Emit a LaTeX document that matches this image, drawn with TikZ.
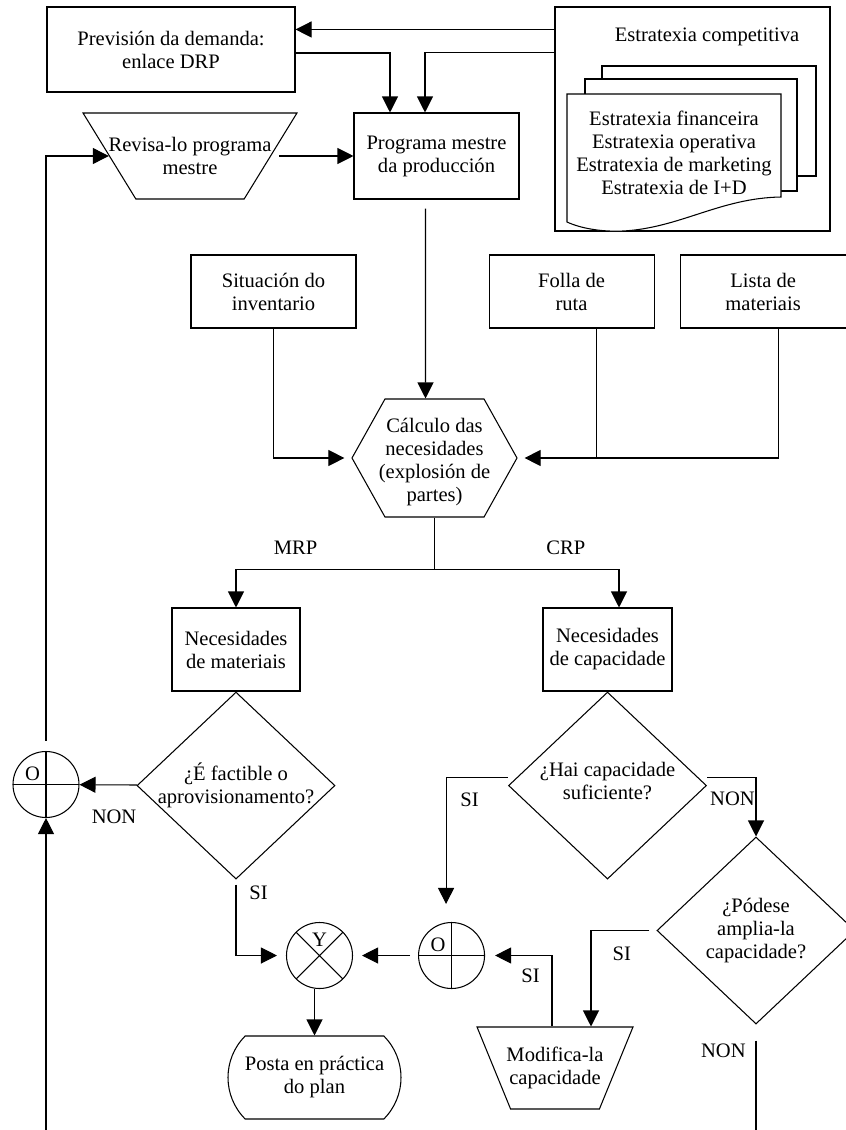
\documentclass[tikz,border=0pt]{standalone}
\usepackage{fontspec}
\setmainfont{Liberation Serif}
\usetikzlibrary{shapes, arrows.meta, positioning}

\begin{document}
\begin{tikzpicture}[x=0.2mm, y=-0.2mm, semithick, >={Triangle[length=3.2mm, width=3.2mm]},
  font=\fontsize{11.7}{13.1}\selectfont,
  box/.style={draw, rectangle, align=center, inner xsep=2pt},
  dec/.style={draw, diamond, minimum width=3.96cm, minimum height=3.74cm, inner sep=0pt},
  ogate/.style={draw, circle, minimum size=1.32cm, inner sep=0pt,
    path picture={\draw (path picture bounding box.north) -- (path picture bounding box.south)
      (path picture bounding box.west) -- (path picture bounding box.east);},
    label={[xshift=-0.27cm, yshift=0.22cm]center:O}},
  ygate/.style={draw, circle, minimum size=1.32cm, inner sep=0pt,
    path picture={\draw (path picture bounding box.north west) -- (path picture bounding box.south east)
      (path picture bounding box.north east) -- (path picture bounding box.south west);},
    label={[yshift=0.31cm]center:Y}}]
  \path[use as bounding box, fill=white] (0,0) rectangle (845,1130);

  % Arriba: prevision, estratexia e programa mestre
  \node[box, minimum width=4.96cm, minimum height=1.7cm] (prev) at (171,49.5) {Previsión da demanda:\\enlace DRP};
  \node[draw, minimum width=5.5cm, minimum height=4.48cm] (estr) at (692.5,119) {};
  \node (comp) at (707,37) {Estratexia competitiva};
  % follas de estratexia
  \draw[fill=white] (602,66) rectangle (816,176);
  \draw[fill=white] (585,79) rectangle (797,191);
  \draw[fill=white] (567,94) -- (781,94) -- (781,197) .. controls (720,198) and (680,228) .. (623,231)
    .. controls (600,232) and (580,228) .. (567,222) -- cycle;
  \node[align=center] (docs) at (674,153) {Estratexia financeira\\Estratexia operativa\\Estratexia de marketing\\Estratexia de I+D};
  \node[draw, trapezium, trapezium left angle=116, trapezium right angle=116, trapezium stretches=true,
    minimum width=4.28cm, minimum height=1.72cm,
    label={[align=center]center:Revisa-lo programa\\mestre}] (revisa) at (190,156) {};
  \node[box, minimum width=3.3cm, minimum height=1.72cm] (prog) at (436.5,156) {Programa mestre\\da producción};

  % Entradas do calculo
  \node[box, minimum width=3.3cm, minimum height=1.46cm] (sit) at (273.5,291.5) {Situación do\\inventario};
  \node[box, minimum width=3.3cm, minimum height=1.46cm, right=2.64cm of sit] (folla) {Folla de\\ruta};
  \node[box, minimum width=3.32cm, minimum height=1.46cm, right=0.5cm of folla] (lista) {Lista de\\materiais};
  \node[draw, signal, signal to=west and east, signal pointer angle=121.6, minimum width=3.3cm,
    minimum height=2.36cm, inner sep=0pt,
    label={[align=center, yshift=-0.08cm]center:Cálculo das\\necesidades\\(explosión de\\partes)}] (hex) at (434.5,458) {};

  % MRP e CRP
  \node[box, minimum width=2.56cm, minimum height=1.66cm] (mat) at (236,649.5) {Necesidades\\de materiais};
  \node[box, minimum width=2.58cm, minimum height=1.66cm] (cap) at (607.5,649.5) {Necesidades\\de capacidade};
  \node[dec, below=0pt of mat, label={[align=center]center:¿É factible o\\aprovisionamento?}] (d1) {};
  \node[dec, below=0pt of cap, label={[align=center, yshift=0.09cm]center:¿Hai capacidade\\suficiente?}] (d2) {};
  \node[dec, label={[align=center]center:¿Pódese\\amplia-la\\capacidade?}] (d3) at (756,930.5) {};

  % Portas O / Y
  \node[ogate] (or1) at (46,784.5) {};
  \node[ygate] (andY) at (319.5,955.5) {};
  \node[ogate, right=1.3cm of andY] (or2) {};

  % Saidas
  \node[draw, rounded rectangle, rounded rectangle arc length=90, minimum width=3.46cm, minimum height=1.66cm,
    align=center, inner xsep=0pt] (posta) at (314.5,1077.5) {Posta en práctica\\do plan};
  \node[draw, trapezium, trapezium left angle=110.7, trapezium right angle=110.7, trapezium stretches=true,
    minimum width=3.12cm, minimum height=1.64cm,
    label={[align=center]center:Modifica-la\\capacidade}] (mod) at (555,1068) {};

  % Conexions de arriba
  \coordinate (e1) at ([yshift=-0.46cm]estr.north west);
  \coordinate (e2) at ([yshift=-0.92cm]estr.north west);
  \draw[->] (e1) -- (e1 -| prev.east);
  \draw[->] ([yshift=-0.07cm]prev.east) -| ([xshift=-0.93cm]prog.north);
  \draw[->] (e2) -| ([xshift=-0.23cm]prog.north);
  \draw[->, shorten <=0.16cm] (revisa) -- (prog);
  \draw[->, shorten <=0.18cm] ([xshift=-0.22cm]prog.south) -- ([xshift=-0.18cm]hex.north);

  % Entradas ao calculo
  \draw[->, shorten >=0.14cm] (sit.south) |- (hex.west);
  \draw ([xshift=0.5cm]folla.south) -- ([xshift=0.5cm]folla.south |- hex.east);
  \draw[->, shorten >=0.14cm] ([xshift=0.3cm]lista.south) |- (hex.east);

  % MRP / CRP
  \coordinate (split) at ([yshift=-1.04cm]hex.south);
  \draw (hex.south) -- (split);
  \draw[->] (split) -| node[pos=0.35, above=0.17cm] {MRP} (mat.north);
  \draw[->] (split) -| node[pos=0.356, above=0.17cm] {CRP} ([xshift=0.23cm]cap.north);

  % Decisions
  \draw[->] (d1) -- node[pos=0.4, below=0.38cm] {NON} (or1);
  \draw[->, shorten <=0.2cm] (or1) |- (revisa.west);
  \coordinate (loopin) at (or1.south |- 0,1130);
  \draw[->] (loopin) -- (or1.south);
  \draw[->, shorten <=0.1cm, shorten >=0.18cm] (d1.south) |- node[pos=0.09, right=0.14cm] {SI} (andY.west);
  \draw[->, shorten >=0.36cm] ([yshift=0.16cm]d2.west) -| node[pos=0.578, right=0.16cm] {SI} ([xshift=-0.11cm]or2.north);
  \draw[->] ([yshift=0.16cm]d2.east) -| node[pos=0.26, below=0.15cm] {NON} (d3.north);
  \draw[->, shorten <=0.14cm] (d3.west) -| node[pos=0.265, below=0.19cm] {SI} ([xshift=0.72cm]mod.north);
  \draw[->, shorten >=0.2cm] ([xshift=-0.06cm]mod.north) |- node[pos=0.354, left=0.12cm] {SI} (or2.east);
  \draw[->, shorten <=0.16cm, shorten >=0.18cm] (or2) -- (andY);
  \draw[->] (andY.south -| posta.center) -- (posta.north);
  \coordinate (exitR) at (d3.south |- 0,1130);
  \draw[shorten <=0.32cm] (d3.south) -- node[pos=0.25, left=0.08cm] {NON} (exitR);
\end{tikzpicture}
\end{document}
